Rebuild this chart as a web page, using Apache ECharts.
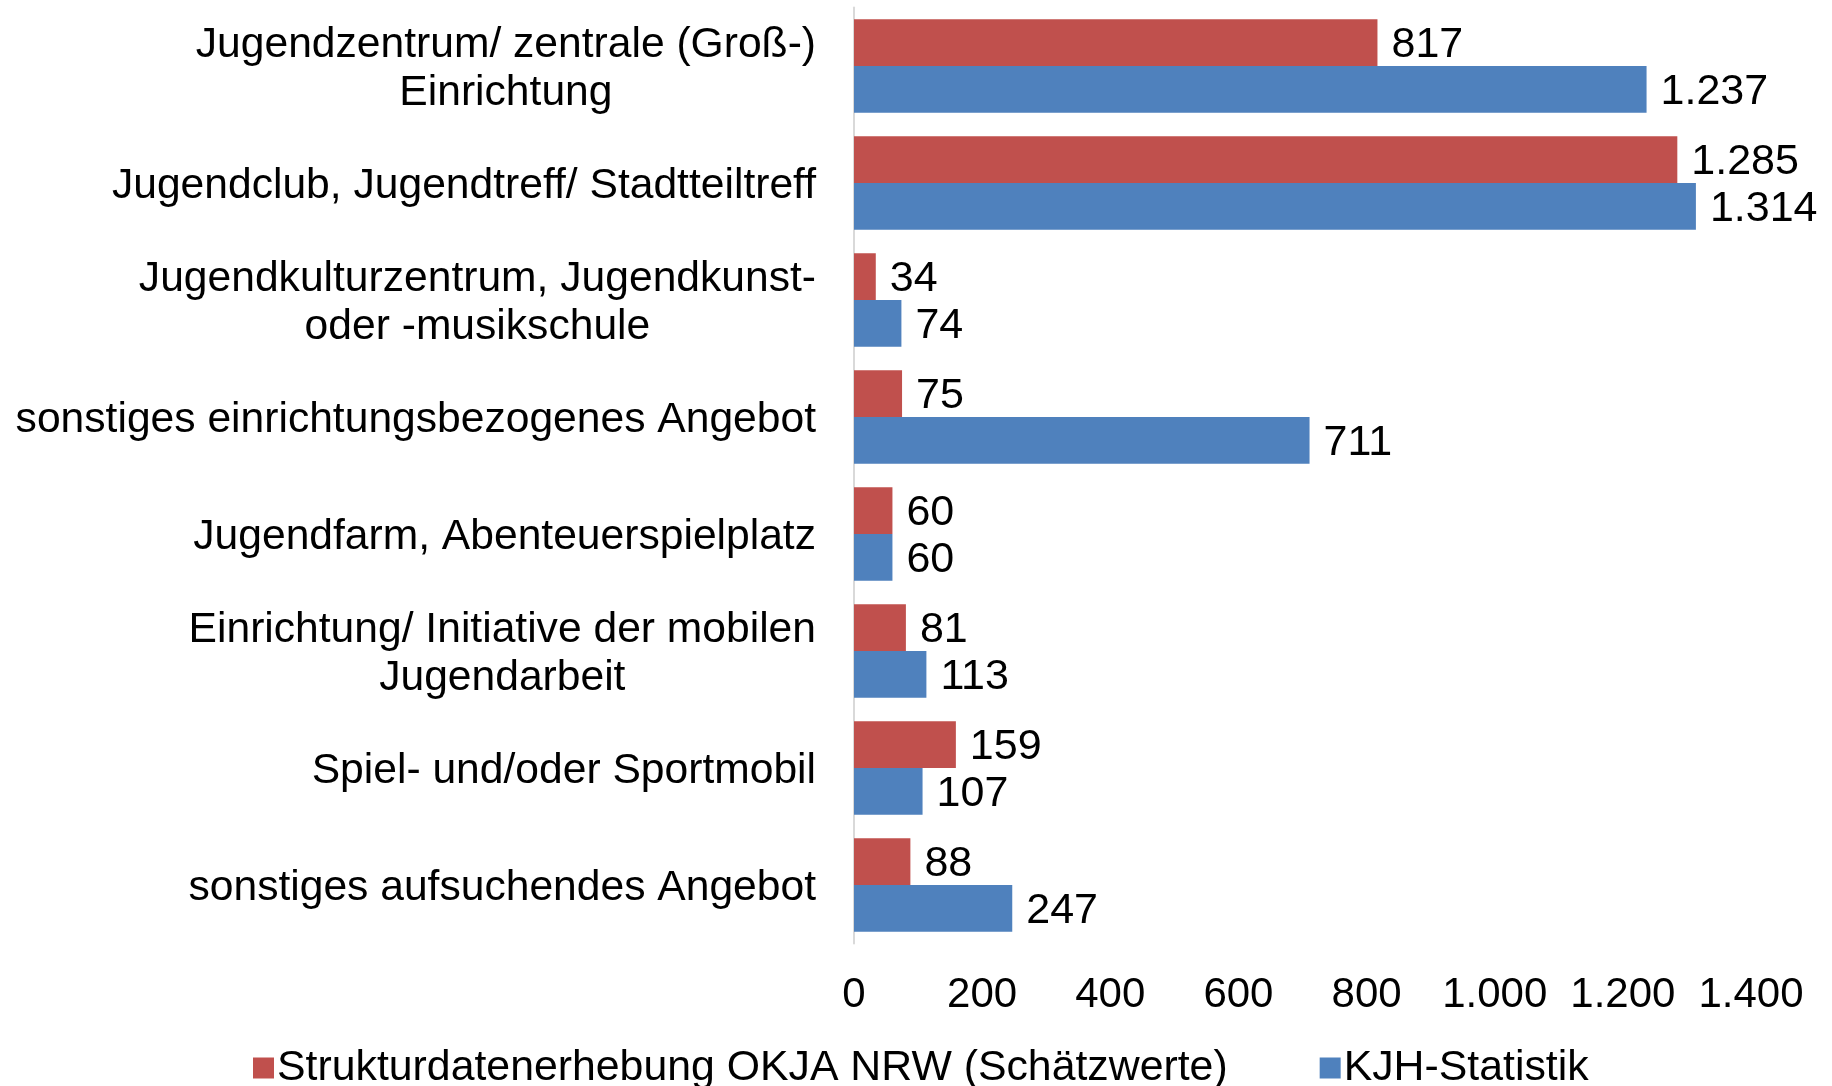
<!DOCTYPE html>
<html>
<head>
<meta charset="utf-8">
<script src="https://cdn.jsdelivr.net/npm/echarts@6/dist/echarts.min.js"></script>
<style>
  html, body { margin: 0; padding: 0; background: #fff; }
  #chart { width: 1832px; height: 1086px; }
</style>
</head>
<body>
<div id="chart"></div>
<script>
const categories = [
  'Jugendzentrum/ zentrale (Groß-)\nEinrichtung',
  'Jugendclub, Jugendtreff/ Stadtteiltreff',
  'Jugendkulturzentrum, Jugendkunst-\noder -musikschule',
  'sonstiges einrichtungsbezogenes Angebot',
  'Jugendfarm, Abenteuerspielplatz',
  'Einrichtung/ Initiative der mobilen\nJugendarbeit',
  'Spiel- und/oder Sportmobil',
  'sonstiges aufsuchendes Angebot'
];
const strukturdaten = [817, 1285, 34, 75, 60, 81, 159, 88];
const kjhStatistik = [1237, 1314, 74, 711, 60, 113, 107, 247];
const seriesNames = ['Strukturdatenerhebung OKJA NRW (Schätzwerte)', 'KJH-Statistik'];

const FONT = 'Liberation Sans, Arial, sans-serif';

// German thousands separator
const fmt = (v) => String(v).replace(/\B(?=(\d{3})+(?!\d))/g, '.');

const chart = echarts.init(document.getElementById('chart'));

const valueLabel = {
  show: true,
  position: 'right',
  distance: 14,
  offset: [0, 3],
  color: '#000',
  fontFamily: FONT,
  fontSize: 43,
  formatter: (p) => fmt(p.value)
};

chart.setOption({
  backgroundColor: '#fff',
  animation: false,
  textStyle: { fontFamily: FONT },
  grid: {
    left: 854,
    right: 81,
    top: 7.5,
    bottom: 142.5,
    containLabel: false
  },
  legend: {
    left: 248,
    top: 1040,
    itemWidth: 21,
    itemHeight: 21,
    itemGap: 92,
    icon: 'rect',
    textStyle: {
      fontFamily: FONT,
      fontSize: 42.8,
      color: '#000',
      lineHeight: 46,
      padding: [0, 0, 0, -2]
    },
    data: seriesNames
  },
  xAxis: {
    type: 'value',
    min: 0,
    max: 1400,
    interval: 200,
    axisLine: { show: false },
    axisTick: { show: false },
    splitLine: { show: false },
    axisLabel: {
      margin: 31,
      color: '#000',
      fontFamily: FONT,
      fontSize: 42,
      lineHeight: 42,
      formatter: (v) => fmt(v)
    }
  },
  yAxis: {
    type: 'category',
    inverse: true,
    data: categories,
    axisLine: { show: true, lineStyle: { color: '#d9d9d9', width: 2 } },
    axisTick: { show: false },
    axisLabel: {
      margin: 38,
      align: 'right',
      padding: [7, 0, 0, 0],
      color: '#000',
      fontFamily: FONT,
      fontSize: 42.6,
      lineHeight: 48,
      formatter: (v) => v.split('\n').map((l) => '{c|' + l + '}').join('\n'),
      rich: {
        c: {
          align: 'center',
          color: '#000',
          fontFamily: FONT,
          fontSize: 42.6,
          lineHeight: 48
        }
      }
    }
  },
  series: [
    {
      name: seriesNames[0],
      type: 'bar',
      data: strukturdaten,
      barGap: '0%',
      barCategoryGap: '20%',
      itemStyle: { color: '#C0504D' },
      label: valueLabel
    },
    {
      name: seriesNames[1],
      type: 'bar',
      data: kjhStatistik,
      barGap: '0%',
      barCategoryGap: '20%',
      itemStyle: { color: '#4F81BD' },
      label: valueLabel
    }
  ]
});
</script>
</body>
</html>
